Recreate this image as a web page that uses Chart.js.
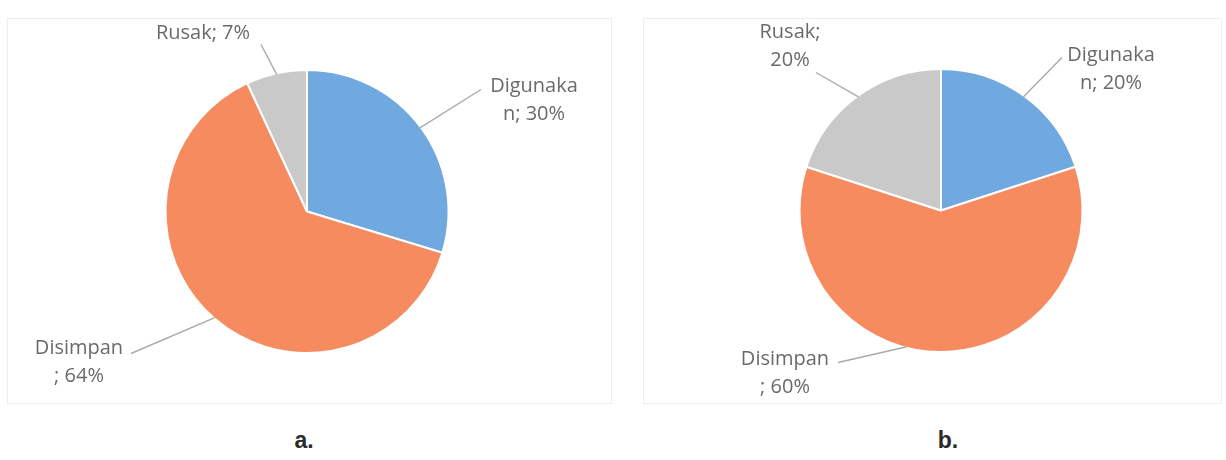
<!DOCTYPE html>
<html>
<head>
<meta charset="utf-8">
<script src="https://cdn.jsdelivr.net/npm/chart.js@4.4.1/dist/chart.umd.min.js"></script>
<style>
  body { margin: 0; background: #fff; width: 1226px; height: 460px; position: relative; overflow: hidden; }
  .panel { position: absolute; top: 18px; height: 386px; border: 1px solid #ededed; box-sizing: border-box; }
  #panelA { left: 7px; width: 605px; }
  #panelB { left: 643px; width: 579px; }
  .panel canvas { position: absolute; left: 0; top: 0; }
  .cap { position: absolute; top: 427px; width: 60px; text-align: center; font: bold 23px 'Liberation Sans', Arial, sans-serif; color: #2b2b2b; }
</style>
</head>
<body>
<div class="panel" id="panelA"><canvas id="chartA" width="605" height="386"></canvas></div>
<div class="panel" id="panelB"><canvas id="chartB" width="579" height="386"></canvas></div>
<div class="cap" style="left:274px">a.</div>
<div class="cap" style="left:918px">b.</div>
<script>
const categories = ['Digunakan', 'Disimpan', 'Rusak'];
const valuesA = [30, 64, 7];
const valuesB = [20, 60, 20];
// data labels as Excel wrapped them
const labelsA = [['Digunaka', 'n; 30%'], ['Disimpan', '; 64%'], ['Rusak; 7%']];
const labelsB = [['Digunaka', 'n; 20%'], ['Disimpan', '; 60%'], ['Rusak;', '20%']];
const colors = ['#70a8e0', '#f68b60', '#c9c9c9'];

// draws the outside labels with leader lines, placed relative to the pie centre
const pieLabels = {
  id: 'pieLabels',
  afterDraw(chart, args, opts) {
    const ctx = chart.ctx;
    const arcs = chart.getDatasetMeta(0).data;
    ctx.save();
    ctx.font = opts.font;
    ctx.textAlign = 'center';
    ctx.textBaseline = 'middle';
    arcs.forEach((arc, i) => {
      const spot = opts.spots[i];
      const frac = typeof spot.at === 'number' ? spot.at : 0.5;
      const a = arc.startAngle + (arc.endAngle - arc.startAngle) * frac;
      const r = arc.outerRadius - 1;
      const ex = arc.x + Math.cos(a) * r;
      const ey = arc.y + Math.sin(a) * r;
      ctx.strokeStyle = '#aaaaaa';
      ctx.lineWidth = 1.4;
      ctx.beginPath();
      ctx.moveTo(arc.x + spot.line[0], arc.y + spot.line[1]);
      ctx.lineTo(ex, ey);
      ctx.stroke();
      ctx.fillStyle = '#6a6a6a';
      opts.text[i].forEach((t, k) => {
        ctx.fillText(t, arc.x + spot.dx, arc.y + spot.dy + k * opts.lineHeight);
      });
    });
    ctx.restore();
  }
};

function makePie(id, values, text, padding, spots) {
  return new Chart(document.getElementById(id), {
    type: 'pie',
    data: {
      labels: categories,
      datasets: [{
        data: values,
        backgroundColor: colors,
        borderColor: '#ffffff',
        borderWidth: 2
      }]
    },
    options: {
      responsive: false,
      animation: false,
      layout: { padding },
      plugins: {
        legend: { display: false },
        tooltip: { enabled: false },
        pieLabels: { font: '20px "Open Sans", sans-serif', lineHeight: 28, text, spots }
      }
    },
    plugins: [pieLabels]
  });
}

makePie('chartA', valuesA, labelsA,
  { left: 154, right: 161, top: 50, bottom: 51 },
  [
    { dx: 227, dy: -125, line: [174, -122] },
    { dx: -228, dy: 137, line: [-176, 142] },
    { dx: -104, dy: -178, line: [-46, -167] }
  ]);

makePie('chartB', valuesB, labelsB,
  { left: 152, right: 137, top: 49, bottom: 52 },
  [
    { dx: 170, dy: -155, line: [121, -153] },
    { dx: -156, dy: 149, line: [-103, 152], at: 0.565 },
    { dx: -151, dy: -178, line: [-125, -138] }
  ]);
</script>
</body>
</html>
